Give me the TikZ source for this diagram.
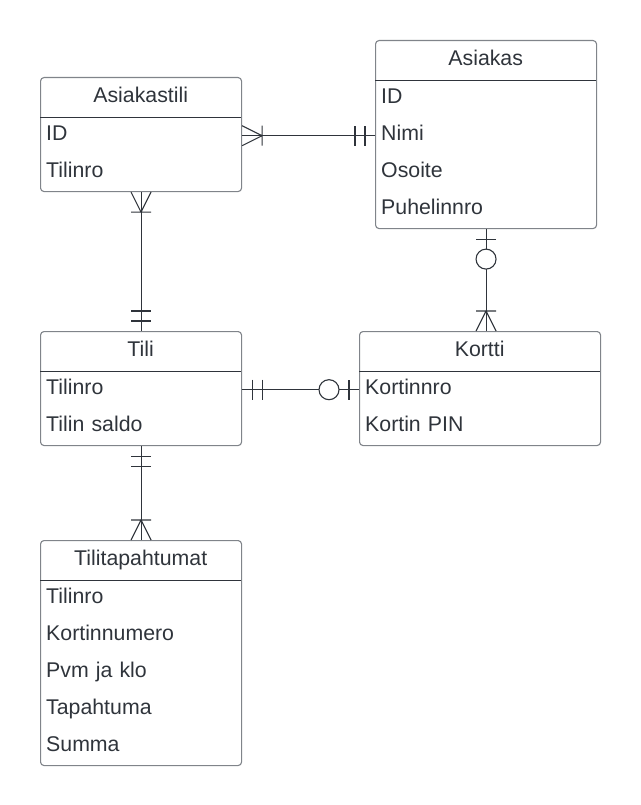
\documentclass[tikz,border=0pt]{standalone}
\usepackage{fontspec}
\setmainfont{Liberation Sans}
\definecolor{ink}{HTML}{2F343B}
\definecolor{frame}{HTML}{80848A}

\begin{document}
\begin{tikzpicture}[x=1pt,y=-1pt,
        font=\fontsize{21.3}{25}\selectfont,
        box/.style={draw=frame,line width=1.1pt,rounded corners=3.5pt,
                inner sep=0pt,anchor=north west},
        head/.style={text=ink,text width=#1,align=center,anchor=north west,
                inner xsep=6pt,inner ysep=0pt,text height=25pt,text depth=15pt},
        row/.style={text=ink,text width=#1,align=left,anchor=north west,
                inner xsep=6pt,inner ysep=0pt,text height=23pt,text depth=14pt},
        rel/.style={draw=ink,line width=1.1pt},
        many/.pic={\draw[rel] (0,-10) -- (20,0) -- (0,10) (20,-10) -- (20,10);},
        mandone/.pic={\draw[rel] (10,-10) -- (10,10) (20,-10) -- (20,10);},
        zeroone/.pic={\draw[rel] (10,-10) -- (10,10);
                \draw[rel,fill=white] (30,0) circle (10);}]

    \useasboundingbox (0,0) rectangle (640,805);

    % Asiakastili
    \node[box,minimum width=201pt,minimum height=114pt] (asiakastili) at (40,77) {};
    \node[head=189pt] (asiakastili-h) at (40,77) {Asiakastili};
    \foreach \a [count=\i] in {ID,Tilinro}
    \node[row=189pt] (asiakastili-\i) at (40,{117+37*(\i-1)}) {\a};
    \draw[rel] (asiakastili-h.south west) -- (asiakastili-h.south east);

    % Asiakas
    \node[box,minimum width=221pt,minimum height=188pt] (asiakas) at (375,40) {};
    \node[head=209pt] (asiakas-h) at (375,40) {Asiakas};
    \foreach \a [count=\i] in {ID,Nimi,Osoite,Puhelinnro}
    \node[row=209pt] (asiakas-\i) at (375,{80+37*(\i-1)}) {\a};
    \draw[rel] (asiakas-h.south west) -- (asiakas-h.south east);

    % Tili
    \node[box,minimum width=201pt,minimum height=114pt] (tili) at (40,331) {};
    \node[head=189pt] (tili-h) at (40,331) {Tili};
    \foreach \a [count=\i] in {Tilinro,Tilin saldo}
    \node[row=189pt] (tili-\i) at (40,{371+37*(\i-1)}) {\a};
    \draw[rel] (tili-h.south west) -- (tili-h.south east);

    % Kortti
    \node[box,minimum width=241pt,minimum height=114pt] (kortti) at (359,331) {};
    \node[head=229pt] (kortti-h) at (359,331) {Kortti};
    \foreach \a [count=\i] in {Kortinnro,Kortin PIN}
    \node[row=229pt] (kortti-\i) at (359,{371+37*(\i-1)}) {\a};
    \draw[rel] (kortti-h.south west) -- (kortti-h.south east);

    % Tilitapahtumat
    \node[box,minimum width=201pt,minimum height=225pt] (tilitapahtumat) at (40,540) {};
    \node[head=189pt] (tilitapahtumat-h) at (40,540) {Tilitapahtumat};
    \foreach \a [count=\i] in {Tilinro,Kortinnumero,Pvm ja klo,Tapahtuma,Summa}
    \node[row=189pt] (tilitapahtumat-\i) at (40,{580+37*(\i-1)}) {\a};
    \draw[rel] (tilitapahtumat-h.south west) -- (tilitapahtumat-h.south east);

    % relations
    \draw[rel] (asiakastili.east |- asiakas-2) -- (asiakas.west |- asiakas-2);
    \pic at (asiakastili.east |- asiakas-2) {many};
    \pic[rotate=180] at (asiakas.west |- asiakas-2) {mandone};

    \draw[rel] (asiakastili.south) -- (tili.north);
    \pic[rotate=-90] at (asiakastili.south) {many};
    \pic[rotate=90] at (tili.north) {mandone};

    \draw[rel] (asiakas.south) -- (kortti.north -| asiakas.south);
    \pic[rotate=90] at (kortti.north -| asiakas.south) {many};
    \pic[rotate=-90] at (asiakas.south) {zeroone};

    \draw[rel] (tili.east |- tili-1) -- (kortti.west |- tili-1);
    \pic at (tili.east |- tili-1) {mandone};
    \pic[rotate=180] at (kortti.west |- tili-1) {zeroone};

    \draw[rel] (tili.south) -- (tilitapahtumat.north);
    \pic[rotate=-90] at (tili.south) {mandone};
    \pic[rotate=90] at (tilitapahtumat.north) {many};
\end{tikzpicture}
\end{document}
